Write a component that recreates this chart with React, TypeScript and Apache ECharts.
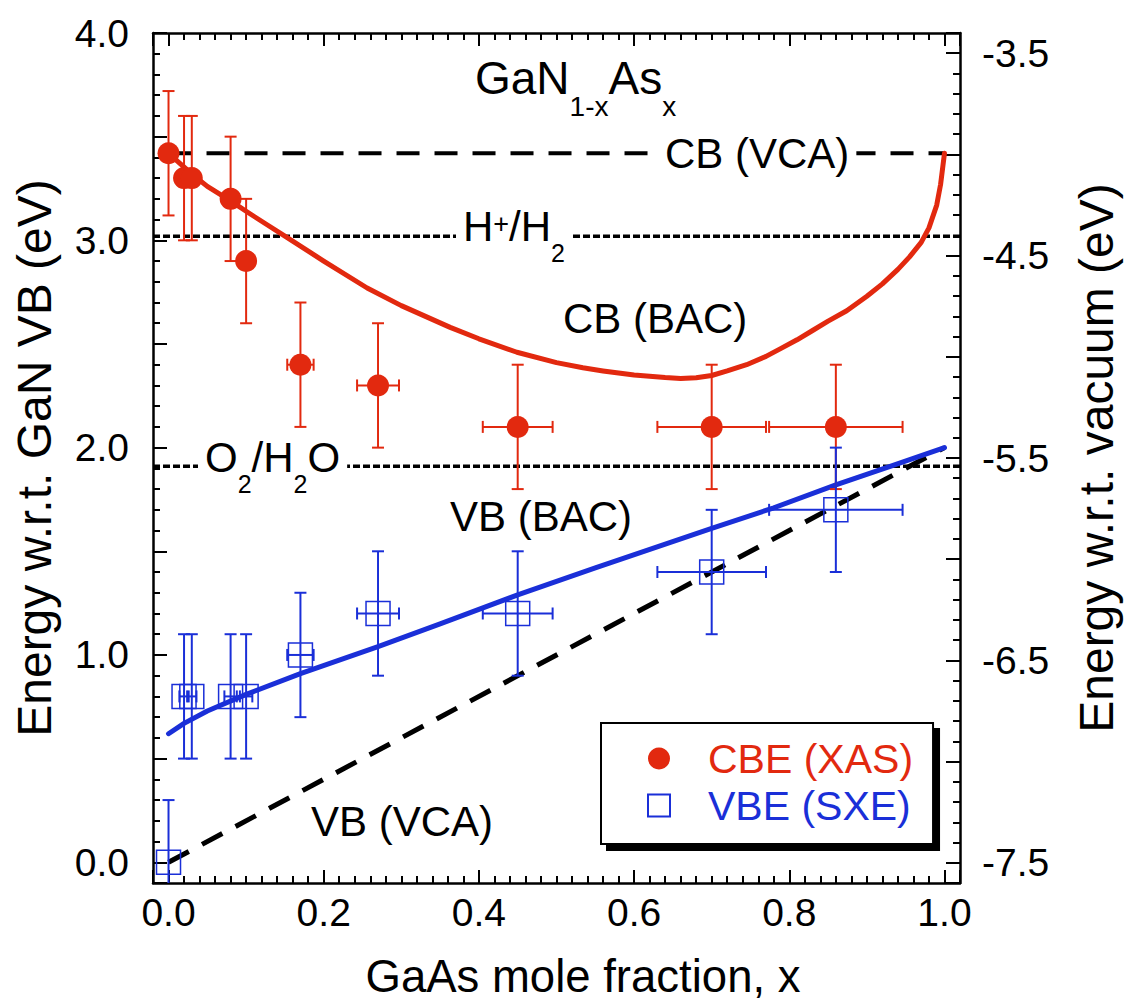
import React, { useEffect, useRef } from "react";
import * as echarts from "echarts";

const FONT = '"Liberation Sans", Arial, Helvetica, sans-serif';
const RED = "#e2290f";
const BLUE = "#1a2fd8";
const BLACK = "#000000";

// axis ranges
const xMin = -0.02;
const xMax = 1.02;
const yMin = -0.1; // energy w.r.t. GaN VB (eV)
const yMax = 4.0;
const vacMin = -7.6; // energy w.r.t. vacuum (eV)
const vacMax = -3.4;

// CBE (XAS) measurements: x, energy, y error, x error
const cbeX = [0.0, 0.02, 0.03, 0.08, 0.1, 0.17, 0.27, 0.45, 0.7, 0.86];
const cbeY = [3.42, 3.3, 3.3, 3.2, 2.9, 2.4, 2.3, 2.1, 2.1, 2.1];
const cbeYErr = [0.3, 0.3, 0.3, 0.3, 0.3, 0.3, 0.3, 0.3, 0.3, 0.3];
const cbeXErr = [0, 0, 0, 0, 0, 0.017, 0.027, 0.045, 0.07, 0.086];

// VBE (SXE) measurements
const vbeX = [0.0, 0.02, 0.03, 0.08, 0.1, 0.17, 0.27, 0.45, 0.7, 0.86];
const vbeY = [0.0, 0.8, 0.8, 0.8, 0.8, 1.0, 1.2, 1.2, 1.4, 1.7];
const vbeYErr = [0.3, 0.3, 0.3, 0.3, 0.3, 0.3, 0.3, 0.3, 0.3, 0.3];
const vbeXErr = [0, 0.006, 0.006, 0.008, 0.008, 0.017, 0.027, 0.045, 0.07, 0.086];

// CB (BAC) model curve
const cbBacX = [0, 0.015, 0.03, 0.05, 0.08, 0.1, 0.125, 0.15, 0.2, 0.256, 0.3, 0.363, 0.4, 0.449, 0.5, 0.534, 0.56, 0.6, 0.64, 0.66, 0.68, 0.7, 0.72, 0.745, 0.77, 0.79, 0.81, 0.83, 0.85, 0.874, 0.9, 0.92, 0.94, 0.955, 0.97, 0.98, 0.99, 0.995, 1.0];
const cbBacY = [3.42, 3.37, 3.32, 3.26, 3.19, 3.14, 3.08, 3.02, 2.9, 2.77, 2.685, 2.58, 2.525, 2.46, 2.41, 2.385, 2.37, 2.35, 2.338, 2.334, 2.337, 2.348, 2.37, 2.4, 2.44, 2.48, 2.52, 2.565, 2.61, 2.66, 2.73, 2.79, 2.86, 2.92, 2.99, 3.06, 3.17, 3.27, 3.42];

// VB (BAC) model curve
const vbBacX = [0, 0.02, 0.05, 0.1, 0.17, 0.27, 0.35, 0.45, 0.55, 0.7, 0.78, 0.86, 0.93, 1.0];
const vbBacY = [0.62, 0.67, 0.73, 0.81, 0.91, 1.04, 1.15, 1.29, 1.42, 1.61, 1.71, 1.82, 1.91, 2.0];

// VCA lines
const cbVcaX = [0, 1];
const cbVcaY = [3.42, 3.42];
const vbVcaX = [0, 1];
const vbVcaY = [0, 2.0];

// redox levels (w.r.t. GaN VB)
const redoxX = [xMin, xMax];
const hLevel = 3.02;
const oLevel = 1.91;

const zip = (xs: number[], ys: number[]) => xs.map((x, i) => [x, ys[i]]);

function errorBars(xs: number[], ys: number[], ye: number[], xe: number[], color: string) {
  return {
    type: "custom",
    clip: true,
    z: 3,
    silent: true,
    data: xs.map((x, i) => [x, ys[i], ye[i], xe[i]]),
    renderItem: (_p: any, api: any) => {
      const x = api.value(0);
      const y = api.value(1);
      const ey = api.value(2);
      const ex = api.value(3);
      const style = { stroke: color, lineWidth: 2, fill: "none" };
      const cap = 6;
      const top = api.coord([x, y + ey]);
      const bot = api.coord([x, y - ey]);
      const children: any[] = [
        { type: "line", shape: { x1: top[0], y1: top[1], x2: bot[0], y2: bot[1] }, style },
        { type: "line", shape: { x1: top[0] - cap, y1: top[1], x2: top[0] + cap, y2: top[1] }, style },
        { type: "line", shape: { x1: bot[0] - cap, y1: bot[1], x2: bot[0] + cap, y2: bot[1] }, style },
      ];
      if (ex > 0) {
        const l = api.coord([x - ex, y]);
        const r = api.coord([x + ex, y]);
        children.push(
          { type: "line", shape: { x1: l[0], y1: l[1], x2: r[0], y2: r[1] }, style },
          { type: "line", shape: { x1: l[0], y1: l[1] - cap, x2: l[0], y2: l[1] + cap }, style },
          { type: "line", shape: { x1: r[0], y1: r[1] - cap, x2: r[0], y2: r[1] + cap }, style }
        );
      }
      return { type: "group", children };
    },
  };
}

// x: left of text, cy: vertical centre of the main letters, f: main size, s: sub size, d: sub offset
function ann(text: string, x: number, cy: number, bg = false, f = 42, s = 25, d = 27) {
  const pad = bg ? 7 : 0;
  return {
    type: "text",
    z: 100,
    x: x - pad,
    y: cy - f / 2,
    silent: true,
    style: {
      text,
      rich: {
        m: { fontSize: f, fontFamily: FONT, fill: BLACK, verticalAlign: "top" },
        s: { fontSize: s, fontFamily: FONT, fill: BLACK, verticalAlign: "top", padding: [d + f / 2 - s / 2, 0, 0, 0] },
        p: { fontSize: s + 2, fontFamily: FONT, fill: BLACK, verticalAlign: "top", padding: [f / 2 - (s + 2) / 2 - 2, 0, 0, 0] },
      },
      fill: BLACK,
      font: `${f}px ${FONT}`,
      align: "left",
      verticalAlign: "top",
      backgroundColor: bg ? "#ffffff" : undefined,
      padding: bg ? [0, pad, 0, pad] : undefined,
    },
  };
}

export default function App() {
  const ref = useRef<HTMLDivElement>(null);

  useEffect(() => {
    if (!ref.current) return;
    const chart = echarts.init(ref.current, null, { renderer: "svg" });

    const tickStyle = { color: BLACK, width: 2 };
    const lineStyle = { color: BLACK, width: 2.5 };
    const labelStyle = { color: BLACK, fontSize: 39, fontFamily: FONT };

    const option: any = {
      animation: false,
      backgroundColor: "#ffffff",
      textStyle: { fontFamily: FONT },
      grid: { left: 153, right: 164, top: 33, bottom: 118, containLabel: false, outerBoundsMode: "none" },
      xAxis: [
        {
          type: "value",
          min: xMin,
          max: xMax,
          splitNumber: 5,
          position: "bottom",
          name: "GaAs mole fraction, x",
          nameLocation: "middle",
          nameGap: 70,
          nameTextStyle: { color: BLACK, fontSize: 45.5, fontFamily: FONT, padding: [0, 0, 0, 53] },
          axisLine: { show: true, onZero: false, lineStyle },
          axisTick: { show: true, inside: true, length: 13, lineStyle: tickStyle },
          minorTick: { show: true, splitNumber: 10, length: 7, lineStyle: tickStyle },
          splitLine: { show: false },
          axisLabel: {
            ...labelStyle,
            margin: 10,
            formatter: (v: number) =>
              Math.abs(v * 5 - Math.round(v * 5)) < 1e-6 && v > -1e-6 && v < 1 + 1e-6 ? v.toFixed(1) : "",
          },
        },
        {
          type: "value",
          min: xMin,
          max: xMax,
          splitNumber: 5,
          position: "top",
          axisLine: { show: true, onZero: false, lineStyle },
          axisTick: { show: true, inside: true, length: 13, lineStyle: tickStyle },
          minorTick: { show: true, splitNumber: 10, length: 7, lineStyle: tickStyle },
          splitLine: { show: false },
          axisLabel: { show: false },
        },
      ],
      yAxis: [
        {
          type: "value",
          min: yMin,
          max: yMax,
          splitNumber: 8,
          position: "left",
          name: "Energy w.r.t. GaN VB (eV)",
          nameLocation: "middle",
          nameRotate: 90,
          nameGap: 95,
          nameTextStyle: { color: BLACK, fontSize: 48, fontFamily: FONT },
          axisLine: { show: true, onZero: false, lineStyle },
          axisTick: { show: true, inside: true, length: 14, lineStyle: tickStyle },
          minorTick: { show: true, splitNumber: 5, length: 7, lineStyle: tickStyle },
          splitLine: { show: false },
          axisLabel: {
            ...labelStyle,
            margin: 24,
            formatter: (v: number) => {
              const r = Math.round(v);
              return Math.abs(v - r) < 1e-6 && v > -1e-6 ? r.toFixed(1) : "";
            },
          },
        },
        {
          type: "value",
          min: vacMin,
          max: vacMax,
          splitNumber: 8,
          position: "right",
          name: "Energy w.r.t. vacuum (eV)",
          nameLocation: "middle",
          nameRotate: 90,
          nameGap: 112,
          nameTextStyle: { color: BLACK, fontSize: 48, fontFamily: FONT },
          axisLine: { show: true, onZero: false, lineStyle },
          axisTick: { show: true, inside: true, length: 14, lineStyle: tickStyle },
          minorTick: { show: true, splitNumber: 5, length: 7, lineStyle: tickStyle },
          splitLine: { show: false },
          axisLabel: {
            ...labelStyle,
            margin: 22,
            formatter: (v: number) => {
              const w = v + 0.5;
              return Math.abs(w - Math.round(w)) < 1e-6 && v > -7.55 && v < -3.45 ? v.toFixed(1) : "";
            },
          },
        },
      ],
      legend: {
        orient: "vertical",
        left: 601,
        top: 723,
        padding: [15, 20, 18, 46],
        itemGap: 6,
        itemWidth: 22,
        itemHeight: 22,
        backgroundColor: "#ffffff",
        borderColor: BLACK,
        borderWidth: 2,
        shadowColor: BLACK,
        shadowBlur: 0,
        shadowOffsetX: 6,
        shadowOffsetY: 6,
        textStyle: { fontSize: 41, fontFamily: FONT, padding: [0, 0, 0, 33] },
        selectedMode: false,
        data: [
          { name: "CBE (XAS)", icon: "circle", textStyle: { color: RED } },
          { name: "VBE (SXE)", icon: "rect", textStyle: { color: BLUE } },
        ],
      },
      series: [
        {
          name: "H+/H2",
          type: "line",
          data: zip(redoxX, [hLevel, hLevel]),
          showSymbol: false,
          lineStyle: { color: BLACK, width: 3.5, type: [7, 3] },
          z: 1,
          silent: true,
        },
        {
          name: "O2/H2O",
          type: "line",
          data: zip(redoxX, [oLevel, oLevel]),
          showSymbol: false,
          lineStyle: { color: BLACK, width: 3.5, type: [7, 3] },
          z: 1,
          silent: true,
        },
        {
          name: "CB (VCA)",
          type: "line",
          data: zip(cbVcaX, cbVcaY),
          showSymbol: false,
          lineStyle: { color: BLACK, width: 4, type: [23, 15] },
          z: 1,
          silent: true,
        },
        {
          name: "VB (VCA)",
          type: "line",
          data: zip(vbVcaX, vbVcaY),
          showSymbol: false,
          lineStyle: { color: BLACK, width: 5, type: [23, 15] },
          z: 1,
          silent: true,
        },
        {
          name: "CB (BAC)",
          type: "line",
          data: zip(cbBacX, cbBacY),
          showSymbol: false,
          smooth: false,
          lineStyle: { color: RED, width: 5, join: "round", cap: "round" },
          z: 2,
          silent: true,
        },
        {
          name: "VB (BAC)",
          type: "line",
          data: zip(vbBacX, vbBacY),
          showSymbol: false,
          smooth: false,
          lineStyle: { color: BLUE, width: 5, join: "round", cap: "round" },
          z: 2,
          silent: true,
        },
        errorBars(cbeX, cbeY, cbeYErr, cbeXErr, RED),
        errorBars(vbeX, vbeY, vbeYErr, vbeXErr, BLUE),
        {
          name: "CBE (XAS)",
          type: "scatter",
          symbol: "circle",
          symbolSize: 22,
          data: zip(cbeX, cbeY),
          itemStyle: { color: RED, opacity: 1 },
          z: 4,
          silent: true,
        },
        {
          name: "VBE (SXE)",
          type: "scatter",
          symbol: "rect",
          symbolSize: 24,
          data: zip(vbeX, vbeY),
          itemStyle: { color: "rgba(255,255,255,0)", borderColor: BLUE, borderWidth: 1.5, opacity: 1 },
          z: 4,
          silent: true,
        },
      ],
      graphic: [
        ann("{m|GaN}{s|1-x}{m|As}{s|x}", 475, 78, false, 46, 28, 28),
        ann("{m|CB (VCA)}", 665, 153, true),
        ann("{m|H}{p|+}{m|/H}{s|2}", 463, 226, true),
        ann("{m|CB (BAC)}", 563, 318),
        ann("{m|O}{s|2}{m|/H}{s|2}{m|O}", 205, 457, true),
        ann("{m|VB (BAC)}", 450, 516),
        ann("{m|VB (VCA)}", 311, 821),
      ],
    };

    chart.setOption(option);
    return () => chart.dispose();
  }, []);

  return (
    <div
      ref={ref}
      style={{ position: "fixed", left: 0, top: 0, width: 1124, height: 1001, background: "#fff" }}
    />
  );
}
